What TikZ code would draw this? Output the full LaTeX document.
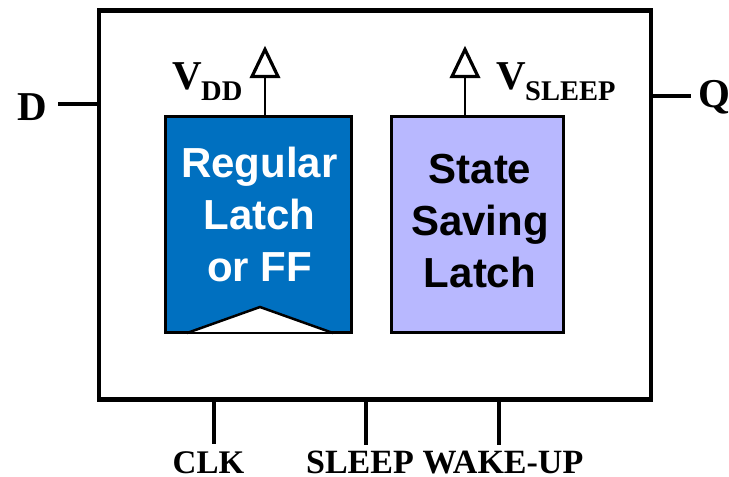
\documentclass[tikz,border=0pt]{standalone}
\usepackage{fontspec}
\setmainfont{Liberation Serif}
\setsansfont{Liberation Sans}
\definecolor{regblue}{RGB}{0,112,192}
\definecolor{statelav}{RGB}{184,184,255}
\begin{document}
\begin{tikzpicture}[x=1pt,y=-1pt,
  line/.style={black,line width=3.5pt},
  thinl/.style={black,line width=2.5pt},
  tri/.style={draw=black,fill=white,line width=3.2pt,line join=miter},
  lab/.style={font=\bfseries\fontsize{41}{41}\selectfont,inner sep=0pt},
  sub/.style={font=\bfseries\fontsize{28.5}{28.5}\selectfont,inner sep=0pt},
  sig/.style={font=\bfseries\fontsize{33}{33}\selectfont,inner sep=0pt},
  sigb/.style={font=\bfseries\fontsize{34}{34}\selectfont,inner sep=0pt},
  blk/.style={font=\sffamily\bfseries\fontsize{42}{52}\selectfont,align=center,inner sep=0pt}]
\useasboundingbox (0,0) rectangle (729,477);
\node[draw=black,line width=4.5pt,outer sep=0pt,minimum width=552pt,minimum height=389pt,inner sep=0pt,anchor=north west] (outer) at (99,10.5) {};
\node[draw=black,fill=regblue,line width=3pt,outer sep=0pt,minimum width=186pt,minimum height=216pt,inner sep=0pt,anchor=north west] (reg) at (165.5,116.5) {};
\node[draw=black,fill=statelav,line width=3pt,outer sep=0pt,minimum width=172pt,minimum height=216pt,inner sep=0pt,anchor=north west] (state) at (391.5,116.5) {};
\node[blk,text=white,anchor=center] (regt) at (259.5,214.5) {Regular\\Latch\\or FF};
\node[blk,text=black,anchor=center] (statet) at (480,221) {State\\Saving\\Latch};
\fill[white] (187,333) -- (260,307) -- (333,333) -- cycle;
\draw[black,line width=2.5pt,line cap=round] (187,333) -- (260,307) -- (333,333);
\draw[black,line width=2.5pt] (186,333) -- (334,333);
\coordinate (vt1) at (265,78);
\coordinate (vt2) at (465,78);
\draw[thinl] (reg.north west -| vt1) -- (vt1);
\draw[thinl] (state.north west -| vt2) -- (vt2);
\draw[tri] (252,76.5) -- (265,49.5) -- (278,76.5) -- cycle;
\draw[tri] (452,76.5) -- (465,49.5) -- (478,76.5) -- cycle;
\node[lab,anchor=base west] (vdd) at (172,89) {V};
\node[sub,anchor=base west] (vdds) at (201,100) {DD};
\node[lab,anchor=base west] (vsl) at (496,89) {V};
\node[sub,anchor=base west] (vsls) at (525,100) {SLEEP};
\node[lab,anchor=base] (d) at (32,120) {D};
\node[lab,anchor=base] (q) at (714,107) {Q};
\coordinate (dl) at (58,104);
\coordinate (ql) at (691,96);
\draw[line] (dl) -- (outer.west |- dl);
\draw[line] (outer.east |- ql) -- (ql);
\node[sig,anchor=base] (clk) at (208.5,473) {CLK};
\node[sigb,anchor=base] (sleep) at (360,473) {SLEEP};
\node[sigb,anchor=base] (wake) at (503,473) {WAKE-UP};
\coordinate (c1) at (214,444);
\coordinate (c2) at (366,445);
\coordinate (c3) at (499,445);
\draw[line] (outer.south -| c1) -- (c1);
\draw[line] (outer.south -| c2) -- (c2);
\draw[line] (outer.south -| c3) -- (c3);
\end{tikzpicture}
\end{document}
